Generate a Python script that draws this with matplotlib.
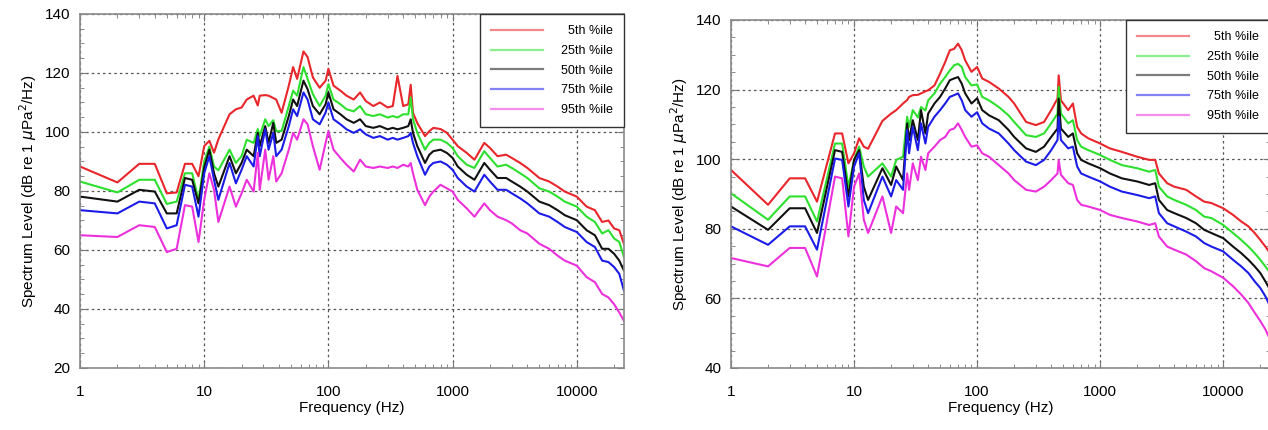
import matplotlib
matplotlib.use('Agg')
import matplotlib.pyplot as plt
import numpy as np

plt.rcParams['font.family'] = ['Liberation Sans', 'DejaVu Sans']

# left panel
freq_a = [1, 2, 3, 4, 5, 6, 7, 8, 9, 10, 11, 12, 13, 16, 18, 20, 22, 25, 27, 28,
          31, 33, 36, 38, 42, 48, 52, 56, 63, 68, 75, 85, 95, 100, 110, 125, 140, 160, 180, 200,
          230, 260, 300, 330, 360, 400, 440, 460, 480, 520, 600, 650, 700, 800, 900, 1000, 1100, 1300, 1500, 1800,
          2000, 2300, 2700, 3000, 3500, 4000, 5000, 6000, 7000, 8000, 10000, 12000, 14000, 16000, 18000, 20000, 22000, 24000]

p05_a = [88.3, 82.9, 89.2, 89.2, 79.2, 79.5, 89.2, 89.2, 85, 95.2, 97, 93, 97.5, 106, 107.7, 108.3, 111, 112.3, 109, 112.3,
         112.5, 112.3, 111.5, 111, 106.5, 115.7, 122, 118, 127.3, 125.4, 118.5, 115, 117.4, 121.4, 115.7, 114, 112.3, 111, 113.4, 110.5,
         108.8, 110, 108.3, 108.8, 119, 108.8, 109.4, 116, 106.5, 103, 98.6, 100.3, 101.4, 101, 99.7, 97.4, 95.2, 92.9, 90.6, 96.3,
         94.6, 91.8, 92.3, 91.2, 89.5, 87.8, 84.4, 83.2, 81.5, 79.8, 78.1, 74.7, 73.5, 69.5, 70, 67.3, 66.7, 62]
p25_a = [83.2, 79.5, 83.8, 83.8, 75.6, 76.4, 86, 86, 77, 90, 95, 88.3, 87, 94, 89.5, 91.8, 97.4, 96.3, 101, 98.6,
         104.3, 102, 104, 100.3, 100.3, 108.8, 114, 112.3, 122, 118, 112.8, 108.8, 112.3, 116.2, 111, 109.4, 107.7, 107, 108.8, 106,
         105.4, 106, 104.9, 105.4, 104.9, 106, 106, 111.7, 104.3, 99.7, 94, 96.3, 97.4, 97.4, 96.3, 94.6, 91.8, 88.9, 87.8, 93.5,
         91.2, 88.3, 88.9, 87.8, 86, 84.4, 80.9, 79.8, 78.1, 76.4, 74.7, 71.3, 69.5, 65.6, 66.7, 63.9, 62.7, 57.6]
p50_a = [78.1, 76.4, 80.4, 79.8, 72.4, 72.4, 84.4, 83.8, 75.8, 88, 94, 86, 81.5, 91.8, 86, 89.5, 94, 91.8, 99.7, 95.2,
         102, 96.3, 103.1, 96.3, 97.4, 105.4, 111, 108.8, 117.4, 114.5, 108.8, 106, 109.4, 113.4, 107.7, 106, 104.3, 103.1, 104.3, 102,
         101.4, 102, 100.9, 101.4, 100.9, 101.4, 102, 104.3, 99.7, 95.2, 89.5, 92.3, 93.5, 94, 92.9, 91.2, 88.3, 85.5, 83.8, 89.5,
         87.2, 84.4, 84.4, 83.2, 81.5, 79.8, 76.4, 75.2, 73.5, 71.8, 70.1, 66.7, 65, 60.4, 60.4, 58.7, 56.4, 53]
p75_a = [73.5, 72.4, 76.4, 75.8, 67.3, 68.4, 82.1, 81.5, 71.3, 86, 91.8, 83.8, 77, 89.5, 82.6, 87.2, 91.8, 88.3, 98.6, 91.8,
         100.9, 94, 99.7, 91.8, 94, 102, 107.7, 105.4, 113.4, 111, 104.3, 102.6, 106.6, 110, 104.3, 102.6, 100.9, 99.7, 100.9, 99.2,
         98, 98.6, 97.4, 98, 97.4, 98, 98.6, 99.7, 96.3, 91.8, 85.5, 88.3, 89.5, 90, 88.9, 87.2, 84.4, 81.5, 79.8, 85.5,
         83.2, 80.4, 80.4, 79.2, 77.5, 75.8, 72.4, 71.3, 69.5, 67.8, 66.1, 62.7, 61, 56.4, 55.9, 54.2, 51.9, 46.2]
p95_a = [65, 64.4, 68.4, 67.8, 59.3, 60.4, 75.2, 74.7, 62.7, 77, 86, 80.4, 69.5, 81.5, 74.7, 79.2, 83.8, 79.8, 92.9, 80.4,
         94, 83.8, 91.8, 83.2, 86, 94, 99.7, 97.4, 104.3, 102.6, 95.2, 87.2, 96.3, 100.3, 94, 91.2, 88.9, 86.6, 90.6, 88.3,
         87.8, 88.3, 87.8, 88.3, 87.8, 88.9, 88.3, 89.5, 86, 80.4, 75.2, 78.1, 79.8, 82.1, 80.9, 79.8, 77, 74.1, 71.3, 75.8,
         73.5, 71.3, 70.1, 69, 66.7, 65.6, 62.1, 60.4, 58.1, 56.4, 54.7, 50.8, 49.1, 45.1, 43.9, 41.6, 38.8, 36]

# right panel
freq_b = [1, 2, 3, 4, 5, 7, 8, 9, 10, 11, 12, 13, 17, 20, 22, 25, 27, 28, 30, 33,
          35, 38, 40, 45, 50, 55, 60, 65, 70, 75, 80, 90, 100, 110, 125, 150, 180, 200, 250, 300,
          350, 400, 450, 460, 480, 550, 600, 650, 700, 800, 1000, 1200, 1500, 2000, 2500, 2800, 3000, 3500, 4000, 5000,
          6000, 7000, 8000, 10000, 12000, 14000, 16000, 18000, 20000, 22000, 24000]

p05_b = [96.9, 86.9, 94.5, 94.5, 87.8, 107.4, 107.4, 98.8, 101.7, 106, 103.6, 103, 111, 113.1, 114.1, 116, 117, 117.9, 118.4, 118.5,
         118.9, 119.5, 119.8, 121.2, 124.6, 127.9, 131.3, 131.7, 133.2, 131.3, 128.4, 125.1, 126.5, 123.2, 122.2, 120.3, 117.9, 116, 110.7, 109.8,
         110.7, 114.1, 117.4, 124.1, 116.9, 114.1, 116, 109.3, 107.4, 106, 104.5, 103.1, 102.1, 100.7, 99.8, 99.8, 95.9, 93.1, 92.1, 91.2,
         89.3, 87.8, 87.4, 85.9, 84, 82.1, 80.7, 78.8, 76.8, 74.9, 73]
p25_b = [90.2, 82.6, 89.3, 89.3, 82.1, 104.5, 104.5, 92.1, 99.8, 103.6, 97.9, 95, 98.8, 95, 99.8, 100.7, 112.2, 109.3, 114.1, 112,
         115, 114, 116.9, 118.9, 121.7, 123.6, 125.5, 127, 127.4, 126.5, 123.6, 121.2, 121.5, 117.9, 116.9, 115, 112.6, 110.7, 106.9, 106.4,
         107.4, 110.3, 113.1, 120.8, 113.1, 110.3, 111.2, 105.5, 103.6, 102.6, 101.2, 99.8, 98.3, 97.4, 96.4, 96.9, 92.1, 89.3, 88.3, 86.9,
         85.4, 83.5, 83.1, 81.1, 78.8, 76.8, 74.9, 73, 71.1, 69.2, 67.3]
p50_b = [86.4, 79.7, 85.9, 85.9, 78.8, 102.6, 102.1, 89.3, 99.8, 102.6, 92.1, 88.3, 97.4, 92.6, 97.9, 94, 110.3, 105.5, 111.2, 105.5,
         114.1, 107.4, 113.1, 116, 117.9, 120.3, 122.7, 123.2, 123.6, 121.7, 118.9, 116, 117.5, 114.1, 112.6, 111.2, 108.4, 106.4, 103.1, 102.1,
         103.6, 106.4, 108.8, 117.4, 108.8, 106.4, 107.4, 101.7, 99.8, 98.8, 97.4, 95.9, 94.5, 93.6, 92.6, 93.1, 88.3, 85.4, 84.5, 83.1,
         81.6, 79.7, 78.8, 77.3, 74.9, 73, 71.1, 69.2, 67.3, 64.9, 62.5]
p75_b = [80.7, 75.4, 80.7, 80.7, 74, 100.2, 99.8, 86.4, 97.9, 101.7, 88.3, 84.5, 95, 89.3, 94, 91.2, 108.4, 101.7, 109.3, 102.6,
         110.3, 104.5, 109.3, 112.2, 114.1, 116, 117.9, 118.4, 118.9, 116.9, 114.1, 112.2, 113.5, 110.3, 108.8, 107.4, 104.5, 102.6, 99.3, 98.3,
         99.8, 102.6, 105.5, 112.2, 105.5, 103.1, 103.6, 97.9, 95.9, 95, 93.6, 92.1, 90.7, 89.7, 88.8, 89.3, 84.5, 81.6, 80.7, 79.2,
         77.8, 75.9, 74.9, 73.5, 71.1, 69.2, 67.3, 64.9, 63, 60.6, 57.8]
p95_b = [71.6, 69.2, 74.5, 74.5, 66.3, 95, 94.5, 77.8, 92.1, 95.9, 82.6, 78.8, 89.3, 78.8, 86.4, 84.5, 95.9, 91.2, 98.8, 94,
         100.7, 96.9, 101.7, 103.6, 105.5, 106.4, 108.4, 108.8, 110.3, 108.4, 106.4, 103.6, 104, 101.7, 100.7, 98.3, 95.9, 94, 91.2, 90.7,
         92.1, 94, 95.9, 99.8, 95.5, 93.1, 92.6, 88.3, 86.9, 86.4, 85.4, 84, 83.1, 82.1, 81.1, 81.6, 77.8, 74.9, 74, 72.6,
         70.7, 68.7, 67.8, 65.9, 63.5, 61.1, 58.7, 55.9, 53.5, 51.1, 48.2]

labels = ['  5th %ile', '25th %ile', '50th %ile', '75th %ile', '95th %ile']
colors = ['#e8262b', '#2ee02e', '#111111', '#1c1ce8', '#ec30dc']

xticks = [1, 10, 100, 1000, 10000]
xticklabels = ['1', '10', '100', '1000', '10000']

fig = plt.figure(figsize=(12.68, 4.30), dpi=100)
ax1 = fig.add_axes([0.0631, 0.1442, 0.4290, 0.8233])
ax2 = fig.add_axes([0.5765, 0.1442, 0.4251, 0.8093])

panels = [(ax1, freq_a, [p05_a, p25_a, p50_a, p75_a, p95_a], (20, 140)),
          (ax2, freq_b, [p05_b, p25_b, p50_b, p75_b, p95_b], (40, 140))]

for ax, freq, series, ylim in panels:
    for vals, col, lab in zip(series, colors, labels):
        ax.plot(freq, vals, color=col, lw=1.5, label=lab)
    ax.set_xscale('log')
    ax.set_xlim(1, 24000)
    ax.set_ylim(ylim)
    ax.set_xticks(xticks)
    ax.set_xticklabels(xticklabels)
    ax.set_yticks(np.arange(ylim[0], ylim[1] + 1, 20))
    ax.set_yticks(np.arange(ylim[0], ylim[1] + 1, 5), minor=True)
    ax.grid(which='major', color='#555555', linestyle=(0, (2, 2.5)), linewidth=0.9)
    ax.tick_params(which='both', direction='in', top=True, right=True, color='#777777',
                   labelsize=11)
    ax.tick_params(which='major', length=5)
    ax.tick_params(which='minor', length=3)
    ax.tick_params(axis='x', pad=12)
    ax.tick_params(axis='y', pad=7)
    for sp in ax.spines.values():
        sp.set_color('#8a8a8a')
        sp.set_linewidth(1.2)
    ax.set_xlabel('Frequency (Hz)', fontsize=11, labelpad=2)
    ax.set_ylabel('Spectrum Level (dB re 1 $\\mu$Pa$^2$/Hz)', fontsize=11)

    leg = ax.legend(loc='upper right', borderaxespad=0, fancybox=False, fontsize=9,
                    handlelength=4.2, handletextpad=1.4, labelspacing=0.62, borderpad=0.9,
                    framealpha=1)
    leg.get_frame().set_edgecolor('#333333')
    leg.get_frame().set_linewidth(1.0)
    for ln in leg.get_lines():
        ln.set_alpha(0.55)
        ln.set_linewidth(1.6)

plt.savefig('out.png', dpi=100, facecolor='white')
